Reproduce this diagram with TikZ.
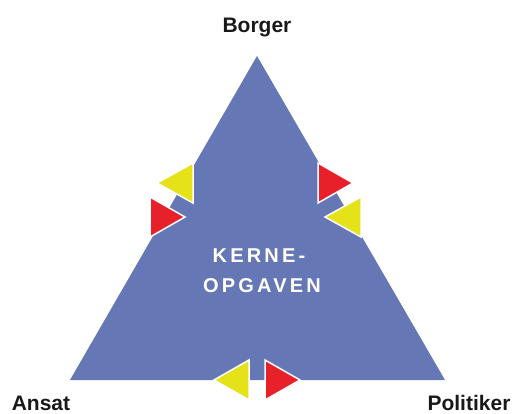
\documentclass[tikz,border=0pt]{standalone}
\usepackage{fontspec}
\setmainfont{Liberation Sans}
\definecolor{coreblue}{RGB}{102,119,181}
\definecolor{arrred}{RGB}{232,32,42}
\definecolor{arryel}{RGB}{229,226,26}
\begin{document}
\begin{tikzpicture}[x=1pt,y=-1pt,
  corner/.style={font=\fontsize{21}{24}\selectfont\bfseries, text=black!90, inner sep=0pt, anchor=base},
  flag/.style={draw=white, line width=1.5pt, line join=miter},
  core/.style={font=\fontsize{20}{22}\selectfont\bfseries\addfontfeature{LetterSpace=16}, text=white, inner sep=0pt, anchor=base}]
\useasboundingbox (0,0) rectangle (517,414);
\fill[coreblue] (257,56) coordinate (top) -- (70,380) coordinate (bl) -- (445,380) coordinate (br) -- cycle;
% left side
\fill[arryel, flag] (193,163) -- (193,203) -- (157,183) -- cycle;
\fill[arrred, flag] (150,197) -- (150,237) -- (185,217) -- cycle;
% right side
\fill[arrred, flag] (318,163) -- (318,203) -- (353,183) -- cycle;
\fill[arryel, flag] (361,197) -- (361,237) -- (325,217) -- cycle;
% bottom
\fill[arryel, flag] (249,360) -- (249,400) -- (214,380) -- cycle;
\fill[arrred, flag] (265,360) -- (265,400) -- (300,380) -- cycle;
\node[core] (k1) at (259,263) {KERNE-};
\node[core] (k2) at (262,293) {OPGAVEN};
\node[corner] (borger) at (257,33) {Borger};
\node[corner] (ansat) at (41,410) {Ansat};
\node[corner] (pol) at (469,410) {Politiker};
\end{tikzpicture}
\end{document}
